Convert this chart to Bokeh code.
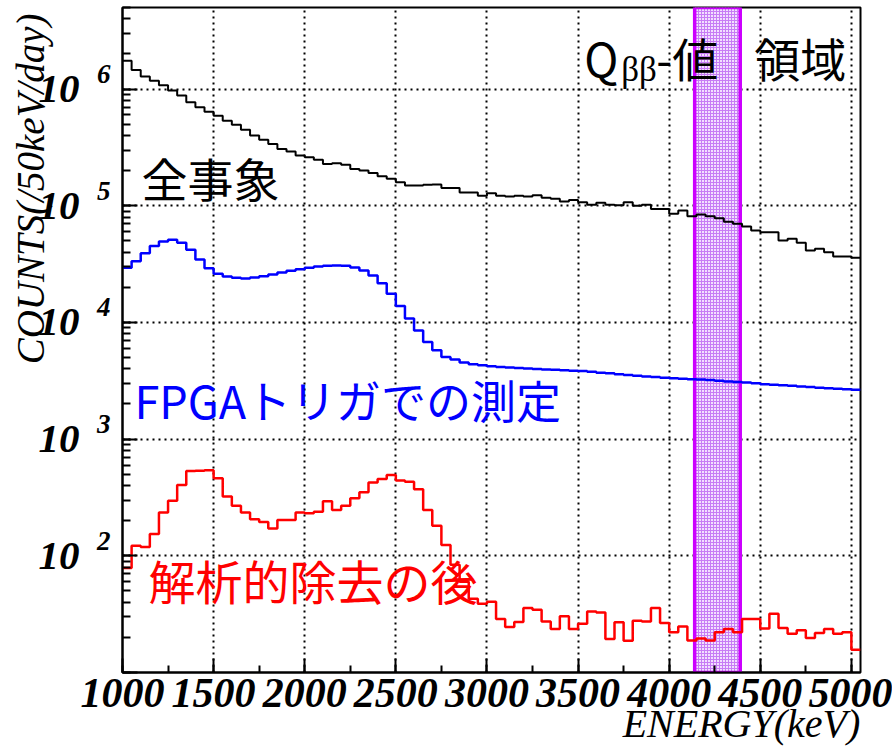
import math
from bokeh.plotting import figure
from bokeh.models import (Range1d, SingleIntervalTicker, LogTicker, FixedTicker, Label,
                          LogAxis, CustomJSTickFormatter)
from bokeh.embed import file_html
from bokeh.resources import INLINE

# ---------------- data ----------------
bin_width = 50                      # keV
bin_lo = list(range(1000, 5050, 50))  # lower bin edges, keV (81 bins)

all_events = [1.75e6, 1.46e6, 1.28e6, 1.18e6, 1.08e6, 9.7e5, 8.8e5, 7.7e5, 6.97e5, 6.4e5,
              5.9e5, 5.36e5, 4.95e5, 4.49e5, 3.99e5, 3.67e5, 3.39e5, 3.07e5, 2.91e5, 2.69e5,
              2.60e5, 2.48e5, 2.28e5, 2.31e5, 2.25e5, 2.07e5, 2.00e5, 1.91e5, 1.79e5, 1.70e5,
              1.59e5, 1.49e5, 1.49e5, 1.51e5, 1.52e5, 1.42e5, 1.42e5, 1.30e5, 1.30e5, 1.22e5,
              1.28e5, 1.22e5, 1.20e5, 1.22e5, 1.20e5, 1.23e5, 1.17e5, 1.15e5, 1.09e5, 1.12e5,
              1.07e5, 1.02e5, 1.06e5, 1.02e5, 1.01e5, 1.07e5, 9.98e4, 1.02e5, 9.4e4, 9.4e4,
              8.53e4, 9.1e4, 8.13e4, 8.41e4, 8.13e4, 7.82e4, 7.28e4, 7.0e4, 6.64e4, 6.14e4,
              5.93e4, 5.93e4, 5.04e4, 5.21e4, 4.82e4, 4.14e4, 4.28e4, 4.0e4, 3.67e4, 3.67e4,
              3.58e4]

fpga_trigger = [2.94e4, 3.35e4, 3.92e4, 4.51e4, 4.94e4, 5.11e4, 4.82e4, 4.2e4, 3.47e4, 2.92e4,
                2.61e4, 2.48e4, 2.42e4, 2.38e4, 2.43e4, 2.49e4, 2.58e4, 2.68e4, 2.77e4, 2.86e4,
                2.94e4, 3.02e4, 3.06e4, 3.08e4, 3.06e4, 2.96e4, 2.79e4, 2.53e4, 2.17e4, 1.76e4,
                1.38e4, 1.08e4, 8550, 6790, 5770, 5050, 4810, 4530, 4380, 4300,
                4210, 4150, 4110, 4070, 4030, 3990, 3960, 3930, 3890, 3860,
                3830, 3770, 3710, 3660, 3600, 3540, 3490, 3440, 3400, 3360,
                3320, 3290, 3260, 3240, 3210, 3170, 3120, 3080, 3050, 3010,
                2960, 2930, 2900, 2860, 2830, 2800, 2760, 2730, 2700, 2670,
                2650]

after_cuts = [78.5, 122, 119, 154, 235, 297, 405, 533, 537, 541,
              462, 322, 269, 235, 206, 195, 171, 203, 203, 235,
              232, 239, 294, 247, 269, 312, 351, 424, 456, 493,
              441, 432, 372, 247, 181, 124, 83.8, 60, 42.8, 38.8,
              40.4, 28.7, 24.6, 27.1, 35.7, 34.5, 27.4, 23.6, 30.3, 23.6,
              26.2, 33.4, 32.7, 19.4, 26.9, 18.7, 27.8, 27.4, 35.7, 26.6,
              22.1, 24.8, 18.8, 19.6, 18.8, 22.1, 23.6, 22.1, 28.7, 28.7,
              23.8, 31.9, 24.1, 21.5, 23.0, 19.8, 21.8, 23.6, 21.5, 22.1,
              15.7]

q_band = (4140, 4390)               # Q-value region, keV
x_min, x_max = 1000, 5050
y_min, y_max = 10, 5e6
y_label_decades = [2, 3, 4, 5, 6]
y_label_ticks = [10 ** k for k in y_label_decades]

x_title = "ENERGY(keV)"
y_title = "COUNTS(/50keV/day)"

# ---------------- figure ----------------
# exponent labels sit above their decade: shifted copy of the y range
px_per_decade = 665 / (math.log10(y_max) - math.log10(y_min))
exp_shift = 10 ** (15 / px_per_decade)

p = figure(width=892, height=749, x_range=Range1d(x_min, x_max), y_range=Range1d(y_min, y_max),
           y_axis_type="log", output_backend="svg", toolbar_location=None,
           min_border_left=122, min_border_right=32, min_border_top=7, min_border_bottom=77)
p.extra_y_ranges = {"exp": Range1d(y_min / exp_shift, y_max / exp_shift)}
p.background_fill_color = "white"
p.border_fill_color = "white"
p.outline_line_color = "black"
p.outline_line_width = 2
p.outline_line_alpha = 1

serif = "Liberation Serif"
cjk = "Noto Sans CJK JP"
pad = "\u00a0"

# x axis (title pushed to the right end)
xa = p.xaxis[0]
xa.ticker = SingleIntervalTicker(interval=500, num_minor_ticks=2)
xa.major_label_text_font = serif
xa.major_label_text_font_style = "bold italic"
xa.major_label_text_font_size = "42px"
xa.major_label_text_color = "black"
xa.major_label_standoff = 6
xa.major_tick_in = 14
xa.major_tick_out = 0
xa.minor_tick_in = 7
xa.minor_tick_out = 0
xa.major_tick_line_width = 2
xa.minor_tick_line_width = 2
xa.axis_line_width = 2
xa.axis_label = pad * 50 + x_title
xa.axis_label_text_font = serif
xa.axis_label_text_font_style = "italic"
xa.axis_label_text_font_size = "40px"
xa.axis_label_text_color = "black"
xa.axis_label_standoff = -9

# y axis: ticks only
ya = p.yaxis[0]
ya.ticker = LogTicker(num_minor_ticks=10)
ya.formatter = CustomJSTickFormatter(code="return '';")
ya.major_label_standoff = 0
ya.major_tick_in = 15
ya.major_tick_out = 0
ya.minor_tick_in = 8
ya.minor_tick_out = 0
ya.major_tick_line_width = 2
ya.minor_tick_line_width = 2
ya.axis_line_width = 2

# exponent labels
exp_axis = LogAxis(y_range_name="exp", ticker=FixedTicker(ticks=y_label_ticks),
                   formatter=CustomJSTickFormatter(code="return String(Math.round(Math.log10(tick)));"),
                   axis_line_color=None, major_tick_line_color=None, minor_tick_line_color=None,
                   major_label_standoff=6, major_label_text_font=serif,
                   major_label_text_font_style="bold italic", major_label_text_font_size="27px",
                   major_label_text_color="black")
p.add_layout(exp_axis, "left")

# "10" labels + axis title (title pushed to the top end)
ten_axis = LogAxis(ticker=FixedTicker(ticks=y_label_ticks),
                   formatter=CustomJSTickFormatter(code="return '10';"),
                   axis_line_color=None, major_tick_line_color=None, minor_tick_line_color=None,
                   major_label_standoff=8, major_label_text_font=serif,
                   major_label_text_font_style="bold italic", major_label_text_font_size="41px",
                   major_label_text_color="black",
                   axis_label=pad * 31 + y_title, axis_label_text_font=serif,
                   axis_label_text_font_style="italic", axis_label_text_font_size="39px",
                   axis_label_text_color="black", axis_label_standoff=-16)
p.add_layout(ten_axis, "left")

# grids
for g in (p.xgrid, p.ygrid):
    g.grid_line_color = "black"
    g.grid_line_dash = "2 4"
    g.grid_line_width = 2
    g.grid_line_alpha = 1
p.xgrid.ticker = xa.ticker
p.ygrid.ticker = LogTicker(num_minor_ticks=10)

# Q-value band
p.quad(left=[q_band[0]], right=[q_band[1]], bottom=[y_min], top=[y_max],
       fill_color="#f2dfff", fill_alpha=1, hatch_pattern="cross", hatch_color="#c77cf5",
       hatch_scale=3, hatch_weight=1, line_color="#cc00ff", line_width=3.5)

# histograms
edges = bin_lo + [bin_lo[-1] + bin_width]
def steps(vals):
    return list(vals) + [vals[-1]]

p.step(edges, steps(all_events), mode="after", line_color="black", line_width=2)
p.step(edges, steps(fpga_trigger), mode="after", line_color="#0000ff", line_width=2.5)
p.step(edges, steps(after_cuts), mode="after", line_color="#ff0000", line_width=2.5)

# annotations
p.add_layout(Label(x=4000, y=1e6, x_offset=-85, y_offset=32, text="Q", text_align="left",
                   text_baseline="alphabetic", text_font=cjk, text_font_size="46px",
                   text_color="black"))
p.add_layout(Label(x=4000, y=1e6, x_offset=-48, y_offset=20, text="ββ", text_align="left",
                   text_baseline="alphabetic", text_font=serif, text_font_size="35px",
                   text_color="black"))
p.add_layout(Label(x=4000, y=1e6, x_offset=-13, y_offset=32, text="-値", text_align="left",
                   text_baseline="alphabetic", text_font=cjk, text_font_size="46px",
                   text_color="black"))
p.add_layout(Label(x=4000, y=1e6, x_offset=85, y_offset=32, text="領域", text_align="left",
                   text_baseline="alphabetic", text_font=cjk, text_font_size="46px",
                   text_color="black"))
p.add_layout(Label(x=x_min, y=1e5, x_offset=19, y_offset=29, text="全事象", text_align="left",
                   text_baseline="alphabetic", text_font=cjk, text_font_size="46px",
                   text_color="black"))
p.add_layout(Label(x=x_min, y=1e3, x_offset=12, y_offset=40, text="FPGAトリガでの測定",
                   text_align="left", text_baseline="alphabetic", text_font=cjk,
                   text_font_size="45px", text_color="#0000ff"))
p.add_layout(Label(x=x_min, y=1e2, x_offset=26, y_offset=-24, text="解析的除去の後",
                   text_align="left", text_baseline="alphabetic", text_font=cjk,
                   text_font_size="47px", text_color="#ff0000"))

open("out.html", "w").write(file_html(p, INLINE))
